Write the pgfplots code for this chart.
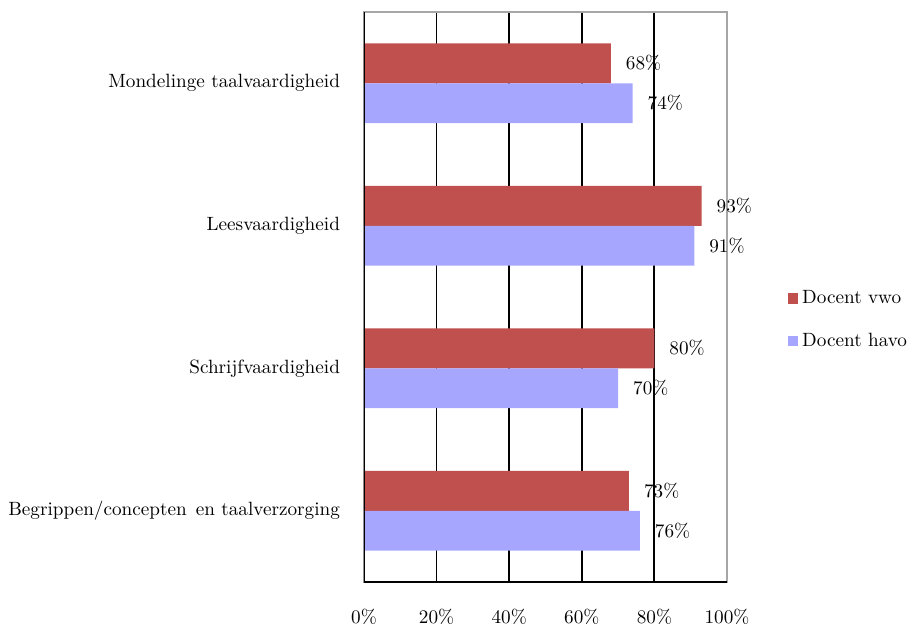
\documentclass[border=0pt]{standalone}
\usepackage{pgfplots}
\pgfplotsset{compat=1.18}
\definecolor{vwo}{HTML}{C0504D}
\definecolor{havo}{HTML}{A6A6FF}
\begin{document}
\begin{tikzpicture}
\begin{axis}[
  name=ax,
  scale only axis,
  width=181.5pt, height=285pt,
  xmin=0, xmax=100, ymin=-0.5, ymax=3.5,
  xbar, bar width=0.28,
  /pgf/number format/assume math mode=true,
  font=\fontsize{9.6}{11}\selectfont,
  xtick={20,40,60,80},
  extra x ticks={0,100},
  extra x tick style={grid=none},
  xticklabel={\pgfmathprintnumber{\tick}\%},
  xmajorgrids,
  major grid style={black, line width=0.9pt},
  major tick length=0pt,
  xticklabel style={yshift=-10pt},
  ytick={0,1,2,3},
  yticklabels={Begrippen/concepten\hspace{4.5pt}en taalverzorging, Schrijfvaardigheid, Leesvaardigheid, Mondelinge taalvaardigheid},
  yticklabel style={xshift=-8.5pt},
  axis line style={draw=gray!70, line width=1.2pt},
  nodes near coords={\pgfmathprintnumber{\pgfplotspointmeta}\%},
  nodes near coords style={anchor=west, xshift=4pt},
  point meta=x,
  legend style={at={(1.15,0.46)}, anchor=west, draw=none, fill=none,
    row sep=9pt, font=\fontsize{9.6}{11}\selectfont},
  legend cell align=left,
  legend image code/.code={\fill[#1,draw=none] (0pt,-2.6pt) rectangle (5.2pt,2.6pt);},
]
\addplot[fill=vwo, draw=none, bar shift=0.14] coordinates {(73,0) (80,1) (93,2) (68,3)};
\addplot[fill=havo, draw=none, bar shift=-0.14] coordinates {(76,0) (70,1) (91,2) (74,3)};
\legend{Docent vwo, Docent havo}
\draw[black, line width=1.1pt] (rel axis cs:0,1) -- (rel axis cs:0,0) -- (rel axis cs:1,0);
\end{axis}
\pgfresetboundingbox
\path ([shift={(-182pt,-22.5pt)}]ax.south west) rectangle ([shift={(91.5pt,6pt)}]ax.north east);
\end{tikzpicture}
\end{document}
